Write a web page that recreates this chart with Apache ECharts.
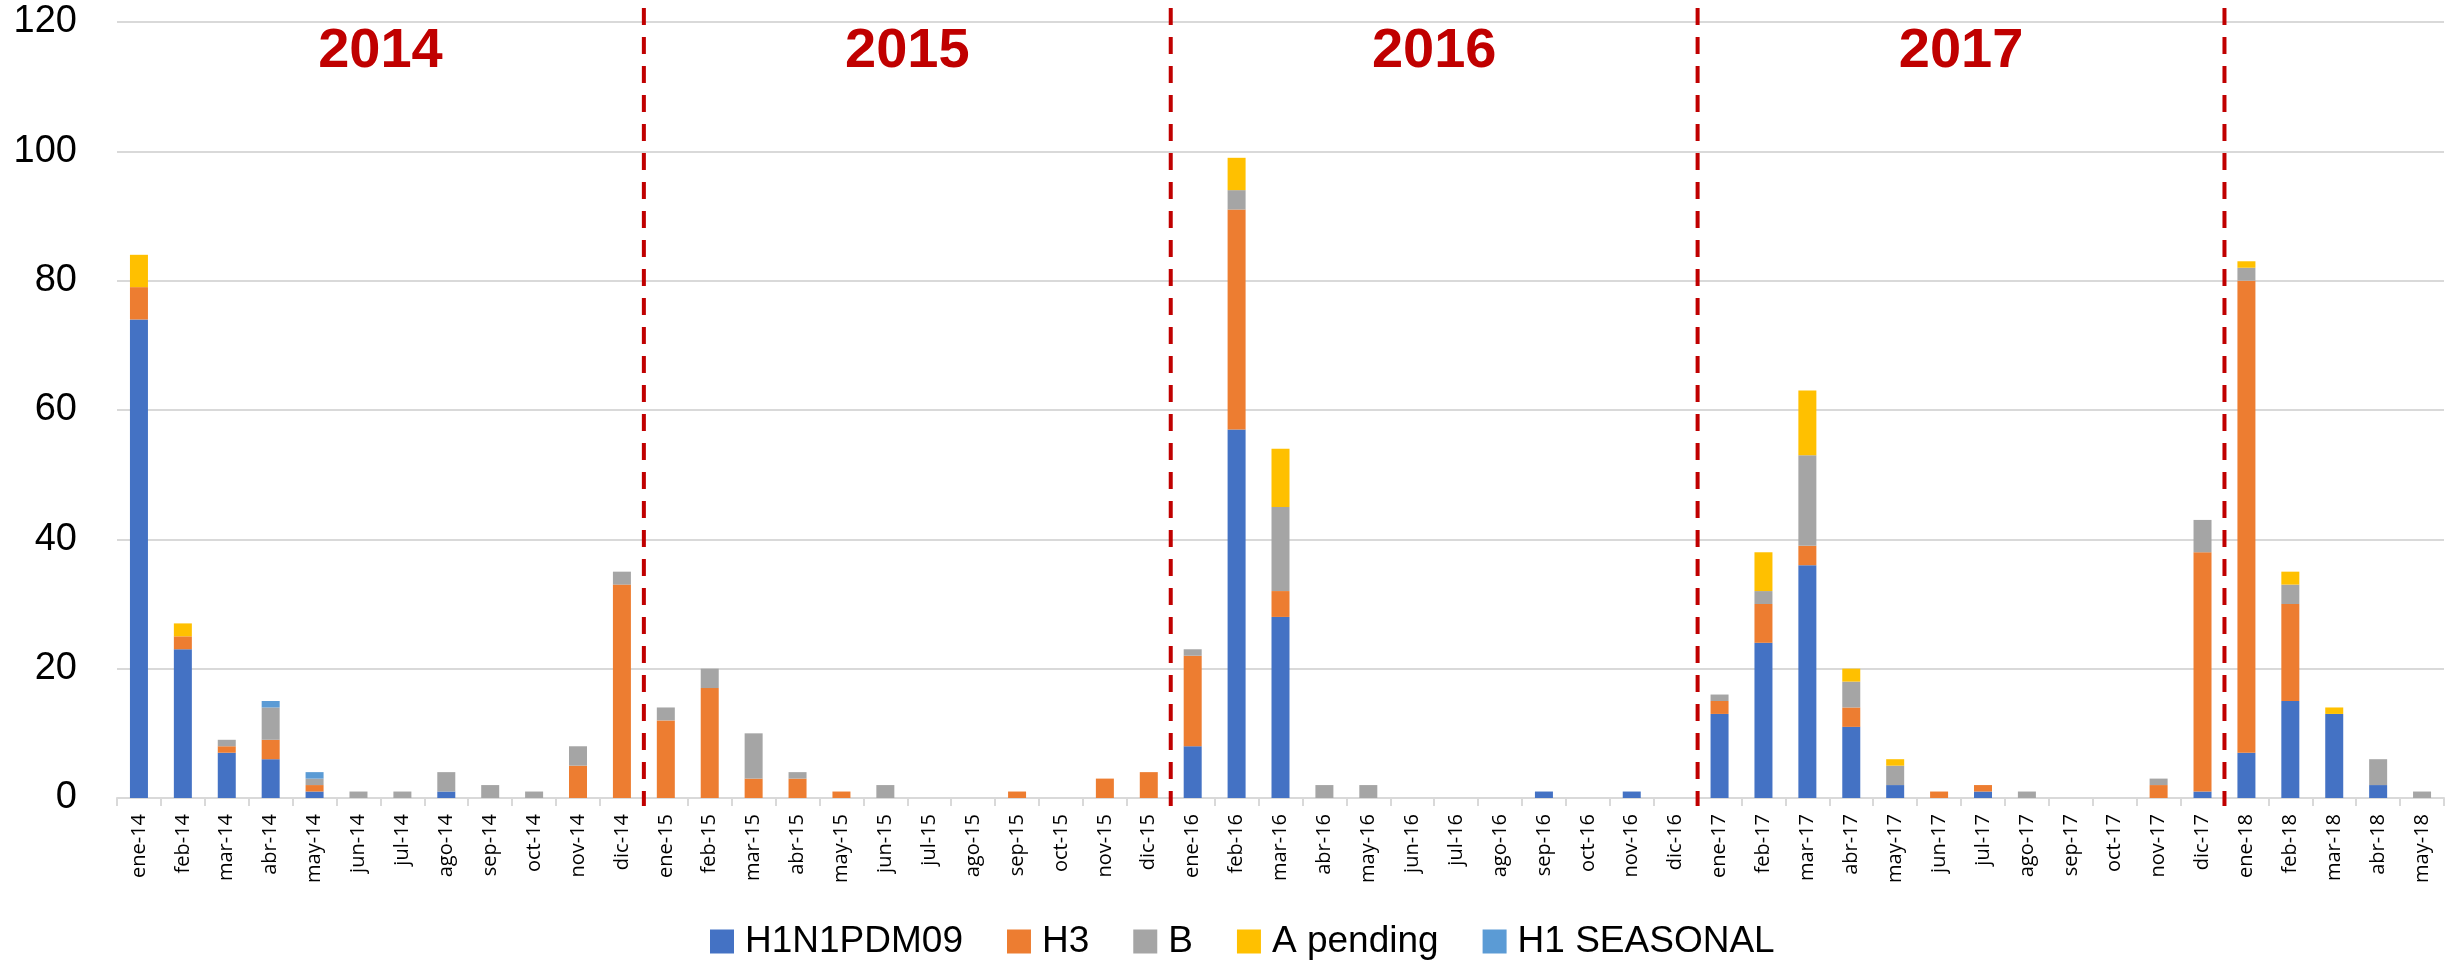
<!DOCTYPE html>
<html>
<head>
<meta charset="utf-8">
<script src="https://cdn.jsdelivr.net/npm/echarts@6/dist/echarts.min.js"></script>
<style>html,body{margin:0;padding:0;background:#fff;}#c{width:2451px;height:963px;}</style>
</head>
<body>
<div id="c"></div>
<script>
const categories = [
 'ene-14','feb-14','mar-14','abr-14','may-14','jun-14','jul-14','ago-14','sep-14','oct-14','nov-14','dic-14',
 'ene-15','feb-15','mar-15','abr-15','may-15','jun-15','jul-15','ago-15','sep-15','oct-15','nov-15','dic-15',
 'ene-16','feb-16','mar-16','abr-16','may-16','jun-16','jul-16','ago-16','sep-16','oct-16','nov-16','dic-16',
 'ene-17','feb-17','mar-17','abr-17','may-17','jun-17','jul-17','ago-17','sep-17','oct-17','nov-17','dic-17',
 'ene-18','feb-18','mar-18','abr-18','may-18'];
const h1n1pdm09 = [74,23,7,6,1,0,0,1,0,0,0,0, 0,0,0,0,0,0,0,0,0,0,0,0, 8,57,28,0,0,0,0,0,1,0,1,0, 13,24,36,11,2,0,1,0,0,0,0,1, 7,15,13,2,0];
const h3 =        [5,2,1,3,1,0,0,0,0,0,5,33, 12,17,3,3,1,0,0,0,1,0,3,4, 14,34,4,0,0,0,0,0,0,0,0,0, 2,6,3,3,0,1,1,0,0,0,2,37, 73,15,0,0,0];
const b =         [0,0,1,5,1,1,1,3,2,1,3,2, 2,3,7,1,0,2,0,0,0,0,0,0, 1,3,13,2,2,0,0,0,0,0,0,0, 1,2,14,4,3,0,0,1,0,0,1,5, 2,3,0,4,1];
const aPending =  [5,2,0,0,0,0,0,0,0,0,0,0, 0,0,0,0,0,0,0,0,0,0,0,0, 0,5,9,0,0,0,0,0,0,0,0,0, 0,6,10,2,1,0,0,0,0,0,0,0, 1,2,1,0,0];
const h1Seasonal= [0,0,0,1,1,0,0,0,0,0,0,0, 0,0,0,0,0,0,0,0,0,0,0,0, 0,0,0,0,0,0,0,0,0,0,0,0, 0,0,0,0,0,0,0,0,0,0,0,0, 0,0,0,0,0];
const yearLabels = ['2014','2015','2016','2017'];
const yearMid = [['jun-14','jul-14'],['jun-15','jul-15'],['jun-16','jul-16'],['jun-17','jul-17']];
const yearBounds = [['dic-14','ene-15'],['dic-15','ene-16'],['dic-16','ene-17'],['dic-17','ene-18']];

const seriesDefs = [
 ['H1N1PDM09', h1n1pdm09, '#4472C4'],
 ['H3', h3, '#ED7D31'],
 ['B', b, '#A5A5A5'],
 ['A pending', aPending, '#FFC000'],
 ['H1 SEASONAL', h1Seasonal, '#5B9BD5']
];

const chart = echarts.init(document.getElementById('c'));
chart.setOption({
  animation: false,
  backgroundColor: '#fff',
  grid: {left: 117, right: 7, top: 22, bottom: 165, containLabel: false},
  legend: {
    left: 710, top: 923, itemWidth: 24, itemHeight: 24, itemGap: 44, padding: 0,
    icon: 'rect',
    textStyle: {fontFamily: 'Liberation Sans', fontSize: 37, lineHeight: 30, color: '#000', padding: [0,0,0,6]},
    data: seriesDefs.map(s => s[0])
  },
  xAxis: {
    type: 'category', data: categories,
    axisLine: {lineStyle: {color: '#d9d9d9', width: 2}},
    axisTick: {show: true, length: 8, lineStyle: {color: '#d9d9d9', width: 2}},
    axisLabel: {rotate: 90, interval: 0, margin: 16, fontFamily: 'Open Sans', fontSize: 20, color: '#000'}
  },
  yAxis: {
    type: 'value', min: 0, max: 120, interval: 20,
    axisLine: {show: false}, axisTick: {show: false},
    splitLine: {lineStyle: {color: '#d9d9d9', width: 2}},
    axisLabel: {margin: 40, fontFamily: 'Liberation Sans', fontSize: 38, color: '#000'}
  },
  series: seriesDefs.map(s => ({
    name: s[0], type: 'bar', stack: 'total', data: s[1], barWidth: 18,
    itemStyle: {color: s[2]}
  }))
});

const graphics = [];
yearBounds.forEach(pair => {
  const x = (chart.convertToPixel({xAxisIndex: 0}, pair[0]) + chart.convertToPixel({xAxisIndex: 0}, pair[1])) / 2;
  graphics.push({type: 'line', shape: {x1: x, y1: 8, x2: x, y2: 806},
    style: {stroke: '#C00000', lineWidth: 4, lineDash: [17, 12]}, z: 100});
});
yearMid.forEach((pair, i) => {
  const x = (chart.convertToPixel({xAxisIndex: 0}, pair[0]) + chart.convertToPixel({xAxisIndex: 0}, pair[1])) / 2;
  graphics.push({type: 'text', x: x, y: 52,
    style: {text: yearLabels[i], fill: '#C00000', font: 'bold 56px "Liberation Sans"', align: 'center', verticalAlign: 'middle'}, z: 100});
});
chart.setOption({graphic: graphics});
</script>
</body>
</html>
